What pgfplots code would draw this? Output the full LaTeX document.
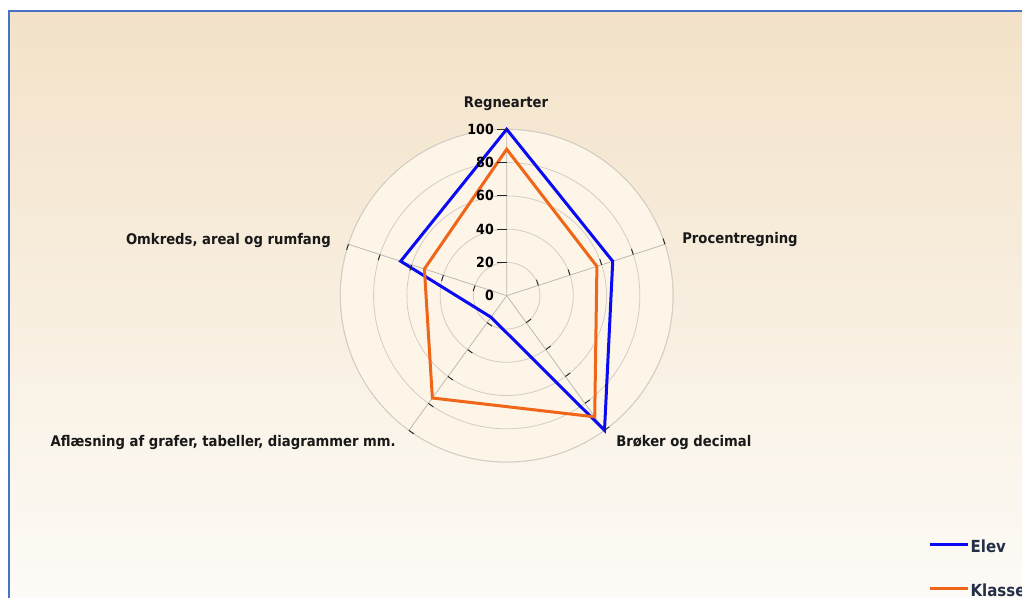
\documentclass[border=0pt]{standalone}
\usepackage{pgfplots}
\pgfplotsset{compat=1.18}
\usepgfplotslibrary{polar}
\usepackage{fontspec}
\setmainfont{DejaVu Sans Condensed}
\definecolor{bgtop}{RGB}{243,226,200}
\definecolor{bgbot}{RGB}{253,251,247}
\definecolor{circfill}{RGB}{252,245,232}
\definecolor{gridcol}{RGB}{212,205,195}
\definecolor{spokecol}{RGB}{190,185,178}
\definecolor{framecol}{RGB}{70,115,200}
\definecolor{elev}{RGB}{10,10,245}
\definecolor{klasse}{RGB}{240,102,24}
\definecolor{legtext}{RGB}{36,48,72}
\definecolor{labtext}{RGB}{25,25,25}
\begin{document}
\begin{tikzpicture}[x=0.75pt,y=0.75pt]
\useasboundingbox (0,0) rectangle (1022,598);
\clip (0,0) rectangle (1022,598);
\fill[white] (0,0) rectangle (1022,598);
\shade[top color=bgtop, bottom color=bgbot] (8.5,-2) rectangle (1030,587);
\draw[framecol, line width=1.5pt] (8.5,-5) -- (8.5,587) -- (1030,587);
\coordinate (C) at (506.7,302.3);
\fill[circfill] (C) circle[radius=166.4];
\begin{polaraxis}[
  at={(C)}, anchor=center,
  scale only axis, width=249.6pt, height=249.6pt,
  xmin=0, xmax=360, ymin=0, ymax=100,
  xtick={18,90,162,234,306}, ytick={20,40,60,80,100},
  xticklabels={}, yticklabels={},
  major tick length=0pt,
  grid=major,
  x grid style={draw=spokecol, line width=0.6pt},
  y grid style={draw=gridcol, line width=0.6pt},
  separate axis lines,
  x axis line style={draw=gridcol, line width=0.6pt},
  y axis line style={draw=none},
  clip=false,
  legend cell align=left,
  legend style={draw=none, fill=none, at={(axis description cs:1.766,-0.232)}, anchor=north west,
    inner sep=0pt, row sep=20pt, font=\bfseries\fontsize{12.5}{14}\selectfont\color{legtext},
    nodes={inner sep=1pt, text height=9pt, text depth=2pt}},
  legend image code/.code={\draw[#1, line width=2.25pt] (0pt,3pt) -- (24pt,3pt); \path (0pt,3pt) -- (28.5pt,3pt);},
]
\addplot[elev, line width=2.25pt, line join=miter] coordinates {(90,100) (18,67) (306,100) (234,16) (162,67)} -- cycle;
\addlegendentry{Elev}
\addplot[klasse, line width=2.25pt, line join=miter] coordinates {(90,88) (18,57) (306,90) (234,76) (162,52)} -- cycle;
\addlegendentry{Klasse}
\pgfplotsinvokeforeach{0,20,40,60,80,100}{
  \node[anchor=east, inner sep=0pt, text=black, font=\bfseries\fontsize{10.5}{12}\selectfont, xshift=-9.5pt] at (axis cs:90,#1) {#1};
}
\pgfplotsinvokeforeach{20,40,60,80,100}{
  \draw[black!85, line width=0.75pt] (axis cs:90,#1) -- ++(180:7pt);
  \draw[black!85, line width=0.7pt] (axis cs:18,#1) -- ++(108:4.5pt);
  \draw[black!85, line width=0.7pt] (axis cs:162,#1) -- ++(252:4.5pt);
  \draw[black!85, line width=0.7pt] (axis cs:234,#1) -- ++(324:4.5pt);
  \draw[black!85, line width=0.7pt] (axis cs:306,#1) -- ++(36:4.5pt);
}
\end{polaraxis}
\begin{scope}[every node/.style={inner sep=0pt, text=labtext, font=\bfseries\fontsize{11}{13}\selectfont}]
\node[anchor=center] at (506,494) {Regnearter};
\node[anchor=west] at (682,358) {Procentregning};
\node[anchor=east] at (331,357.5) {Omkreds, areal og rumfang};
\node[anchor=east] at (396,155.3) {Aflæsning af grafer, tabeller, diagrammer mm.};
\node[anchor=west] at (616,155) {Brøker og decimal};
\end{scope}
\end{tikzpicture}
\end{document}
